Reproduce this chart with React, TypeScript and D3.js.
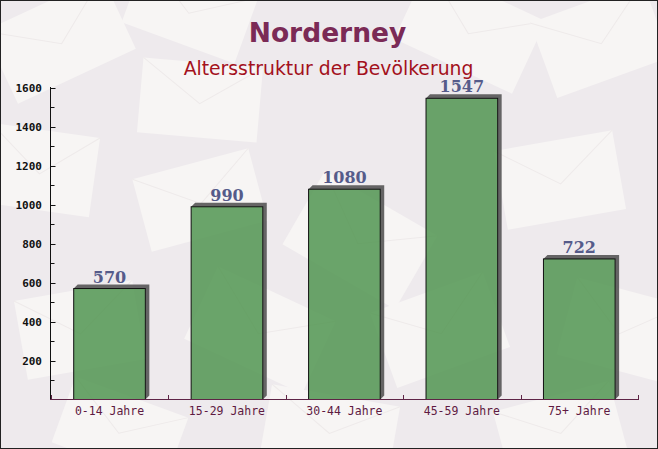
import React from "react";
import * as d3 from "d3";

const categories = ["0-14 Jahre", "15-29 Jahre", "30-44 Jahre", "45-59 Jahre", "75+ Jahre"];
const values = [570, 990, 1080, 1547, 722];
const yTicks = [200, 400, 600, 800, 1000, 1200, 1400, 1600];
const title = "Norderney";
const subtitle = "Altersstruktur der Bevölkerung";

// decorative background envelopes: [cx, cy, w, h, angle]
const envelopes: [number, number, number, number, number][] = [
  [60, 40, 130, 80, -25],
  [190, 10, 120, 70, 20],
  [470, 30, 130, 80, 25],
  [600, 40, 120, 80, -20],
  [200, 100, 120, 75, 5],
  [40, 170, 110, 80, 8],
  [200, 200, 120, 75, -15],
  [360, 240, 130, 85, 30],
  [560, 180, 120, 80, -10],
  [620, 330, 110, 80, 15],
  [80, 330, 120, 80, -10],
  [260, 330, 130, 80, 25],
  [440, 330, 120, 80, -20],
  [330, 430, 130, 70, 10],
  [560, 430, 120, 70, -15],
  [120, 430, 120, 70, 20],
];

const W = 658;
const H = 449;

export default function App() {
  const x = d3.scaleBand<string>().domain(categories).range([50.8, 638]).padding(0);
  const y = d3.scaleLinear().domain([0, 1600]).range([399.5, 88]);
  const bw = x.bandwidth() * 0.61;
  const depth = 4;
  const minor = d3.range(100, 1600, 200);

  return (
    <div style={{ position: "fixed", left: 0, top: 0 }}>
      <svg width={W} height={H} style={{ display: "block" }}>
        <rect x={0} y={0} width={W} height={H} fill="#eeeaed" />
        {envelopes.map(([cx, cy, w, h, a], i) => (
          <g key={i} transform={`translate(${cx},${cy}) rotate(${a})`}>
            <rect x={-w / 2} y={-h / 2} width={w} height={h} fill="#f7f5f4" />
            <path
              d={`M${-w / 2},${-h / 2} L0,${h * 0.05} L${w / 2},${-h / 2}`}
              fill="none"
              stroke="#eeeaea"
              strokeWidth={1}
            />
          </g>
        ))}
        <rect x={0.5} y={0.5} width={W - 1} height={H - 1} fill="none" stroke="#222" strokeWidth={1} />

        <text
          x={327.5}
          y={42}
          textAnchor="middle"
          fontFamily="DejaVu Sans"
          fontWeight="bold"
          fontSize={26.5}
          fill="#7b2a56"
        >
          {title}
        </text>
        <text
          x={328.5}
          y={75}
          textAnchor="middle"
          fontFamily="DejaVu Sans"
          fontSize={18.8}
          fill="#a3111c"
        >
          {subtitle}
        </text>

        {/* bars */}
        {categories.map((c, i) => {
          const bx = (x(c) as number) + (x.bandwidth() - bw) / 2;
          const top = y(values[i]);
          const bottom = y(0);
          const shadow = `M${bx},${top} L${bx + depth},${top - depth} L${bx + bw + depth},${top - depth} L${bx + bw + depth},${bottom - depth} L${bx + bw},${bottom} L${bx + bw},${top} Z`;
          return (
            <g key={c}>
              <path d={shadow} fill="#555555" fillOpacity={0.9} />
              <rect
                x={bx}
                y={top}
                width={bw}
                height={bottom - top}
                fill="#519551"
                fillOpacity={0.85}
                stroke="#111"
                strokeWidth={1}
              />
              <text
                x={bx + bw / 2}
                y={top - 6}
                textAnchor="middle"
                fontFamily="DejaVu Serif"
                fontWeight="bold"
                fontSize={16}
                fill="#555b8a"
              >
                {values[i]}
              </text>
            </g>
          );
        })}

        {/* y axis */}
        <line x1={50.5} x2={50.5} y1={y(1600) - 1} y2={y(0)} stroke="#111" strokeWidth={1} />
        {yTicks.map((t) => (
          <g key={t}>
            <line x1={50.5} x2={55.5} y1={Math.round(y(t)) + 0.5} y2={Math.round(y(t)) + 0.5} stroke="#111" />
            <text
              x={42}
              y={y(t) + 4}
              textAnchor="end"
              fontFamily="DejaVu Sans Mono"
              fontWeight="bold"
              fontSize={11}
              fill="#111"
            >
              {t}
            </text>
          </g>
        ))}
        {minor.map((t) => (
          <line key={t} x1={50.5} x2={54.5} y1={Math.round(y(t)) + 0.5} y2={Math.round(y(t)) + 0.5} stroke="#111" />
        ))}

        {/* x axis */}
        <line x1={50} x2={639} y1={399.5} y2={399.5} stroke="#5e2446" strokeWidth={1} />
        {categories.map((c) => (
          <line
            key={c + "t"}
            x1={Math.round(x(c) as number) + 0.5}
            x2={Math.round(x(c) as number) + 0.5}
            y1={399.5}
            y2={395}
            stroke="#5e2446"
          />
        ))}
        <line x1={638.5} x2={638.5} y1={399.5} y2={395} stroke="#5e2446" />
        {categories.map((c) => (
          <text
            key={c + "l"}
            x={(x(c) as number) + x.bandwidth() / 2}
            y={415}
            textAnchor="middle"
            fontFamily="DejaVu Sans Mono"
            fontSize={11.5}
            fill="#5e1a42"
          >
            {c}
          </text>
        ))}
      </svg>
    </div>
  );
}
